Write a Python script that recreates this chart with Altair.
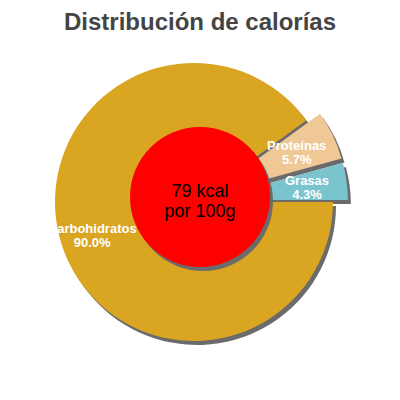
import altair as alt
import pandas as pd

# ---- data ----
labels = ["Carbohidratos", "Proteínas", "Grasas"]
values = [90.0, 5.7, 4.3]
colors = ["#DAA520", "#F0C896", "#7AC4CE"]
order = [0, 1, 2]
center_lines = ["79 kcal", "por 100g"]
title_text = "Distribución de calorías"

# ---- layout / style constants ----
PAD_TOP = 40
W, H = 384, 344
CX, CY = 186, 154        # pie centre in plot coordinates
R = 139                  # pie radius
EX = 15                  # explode distance of small slices
LR = 107                 # label radius
SHX, SHY = 3, 4          # shadow offset
INNER_R = 70
SHADOW = "#6b6b6b"

df = pd.DataFrame({"label": labels, "value": values, "order": order})

base = alt.Chart(df).transform_window(
    cum="sum(value)", sort=[alt.SortField("order")]
).transform_joinaggregate(
    total="sum(value)"
).transform_calculate(
    t0="PI/2 + 2*PI*(datum.cum - datum.value)/datum.total",
    t1="PI/2 + 2*PI*datum.cum/datum.total",
).transform_calculate(
    mid="(datum.t0 + datum.t1)/2",
    ex=f"datum.value < 50 ? {EX} : 0",
).transform_calculate(
    cx=f"{CX} + datum.ex*sin(datum.mid)",
    cy=f"{CY} - datum.ex*cos(datum.mid)",
    lx=f"{CX} + ({LR} + datum.ex*0.47)*sin(datum.mid)",
    ly=f"{CY} - 6 - ({LR} + datum.ex*0.47)*cos(datum.mid)",
    txt="datum.label + '\\n' + format(datum.value, '.1f') + '%'",
).transform_calculate(
    sx=f"datum.cx + {SHX}",
    sy=f"datum.cy + {SHY}",
)

shadow = base.mark_arc(radius=R, color=SHADOW).encode(
    theta=alt.Theta("t0:Q", scale=None, stack=None),
    theta2="t1:Q",
    x=alt.X("sx:Q", scale=None),
    y=alt.Y("sy:Q", scale=None),
)

slices = base.mark_arc(radius=R).encode(
    theta=alt.Theta("t0:Q", scale=None, stack=None),
    theta2="t1:Q",
    x=alt.X("cx:Q", scale=None),
    y=alt.Y("cy:Q", scale=None),
    color=alt.Color("label:N", scale=alt.Scale(domain=labels, range=colors), legend=None),
)

cdf = pd.DataFrame({"txt": ["\n".join(center_lines)]})
cbase = alt.Chart(cdf)

inner_shadow = cbase.mark_arc(radius=INNER_R, color=SHADOW, theta=0, theta2=6.2832).encode(
    x=alt.value(CX + 6 + SHX), y=alt.value(CY - 5 + SHY)
)
inner = cbase.mark_arc(radius=INNER_R, color="#FF0000", theta=0, theta2=6.2832).encode(
    x=alt.value(CX + 6), y=alt.value(CY - 5)
)
center_text = cbase.mark_text(
    font="Liberation Sans", fontSize=18, color="#000000", lineBreak="\n",
    lineHeight=20, align="center", baseline="middle",
).encode(
    x=alt.value(CX + 6), y=alt.value(CY - 10), text="txt:N"
)

label_text = base.mark_text(
    font="Liberation Sans", fontSize=13, fontWeight="bold", color="#FFFFFF",
    lineBreak="\n", lineHeight=14, align="center", baseline="middle",
).encode(
    x=alt.X("lx:Q", scale=None),
    y=alt.Y("ly:Q", scale=None),
    text="txt:N",
)

chart = alt.layer(
    shadow, slices, inner_shadow, inner, center_text, label_text
).properties(
    width=W, height=H,
    autosize=alt.AutoSizeParams(type="none"),
    padding={"left": 0, "top": PAD_TOP, "right": 0, "bottom": 0},
    title=alt.TitleParams(
        title_text, font="Liberation Sans", fontSize=24, fontWeight="bold",
        color="#444444", anchor="middle", baseline="alphabetic", offset=15, dy=21,
    ),
).configure_view(stroke=None)

chart.save("out.html", embed_options={"renderer": "svg", "actions": False})
